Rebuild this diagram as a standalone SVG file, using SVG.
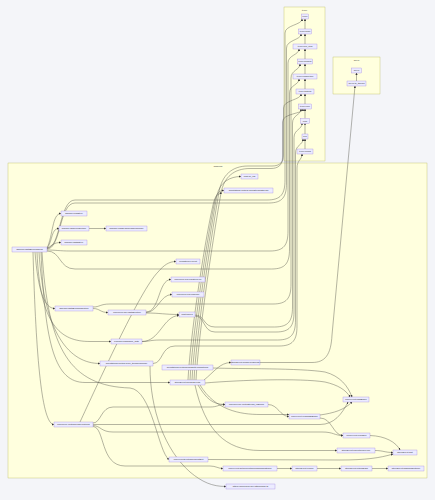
<svg xmlns="http://www.w3.org/2000/svg" width="435" height="500" viewBox="0 0 435 500">
<style>
.bg{fill:#f4f5f9}
.cl{fill:#ffffde;stroke:#aaaa33;stroke-width:0.3}
.node rect{fill:#ececff;stroke:#9370db;stroke-width:0.3}
text{font-family:"Liberation Sans",Arial,sans-serif;font-size:2.3px;fill:#333;text-anchor:middle}
#edges path{fill:none;stroke:#5a5a50;stroke-width:0.45;marker-end:url(#ah)}
</style>
<defs>
<marker id="ah" viewBox="0 0 10 10" refX="9" refY="5" markerUnits="userSpaceOnUse" markerWidth="2.2" markerHeight="2.2" orient="auto"><path d="M0,0L10,5L0,10z" fill="#333"/></marker>
</defs>
<rect class="bg" x="0" y="0" width="435" height="500"/>
<g id="clusters">
<rect class="cl" x="284" y="7" width="41" height="154"/>
<text x="304.5" y="10.5">typer</text>
<rect class="cl" x="333" y="57" width="47" height="37"/>
<text x="356.5" y="60.5">anyio</text>
<rect class="cl" x="8" y="163" width="419" height="315"/>
<text x="218" y="166.8">backend</text>
</g>
<g id="edges">
<path d="M305 29L305 19"/>
<path d="M305 44L305 34"/>
<path d="M305 59L305 49"/>
<path d="M305 74L305 64"/>
<path d="M305 89L305 79"/>
<path d="M305 104L305 94"/>
<path d="M305 118.5L305 109"/>
<path d="M305 134L305 123.5"/>
<path d="M305 149L305 139"/>
<path d="M356.5 81L356.5 73"/>
<path d="M47 248C61 248 59 200 75 200L267 200C281 200 285 194 285 180L285 33C285 25 302 25 302 19"/>
<path d="M47 249C61 249 59 203 75 203L268.5 203C282.5 203 286.5 197 286.5 183L286.5 48C286.5 40 301 40 301 34"/>
<path d="M47 250C55 250 60 251 70 251L270 251C284 251 288 245 288 231L288 63C288 55 299 55 299 49"/>
<path d="M47 251C61 251 59 269 75 269L271.5 269C285.5 269 289.5 263 289.5 249L289.5 93C289.5 85 299 85 299 79"/>
<path d="M93 307C100 307 100 304 110 304L273 304C287 304 291 298 291 284L291 78C291 70 300 70 300 64"/>
<path d="M195 315C205 315 203 327 215 327L274.5 327C288.5 327 292.5 321 292.5 307L292.5 123C292.5 115 301 115 301 109"/>
<path d="M195 316C205 316 203 332 215 332L276 332C290 332 294 326 294 312L294 137.5C294 129.5 302 129.5 302 123.5"/>
<path d="M142 341.5C150 341.5 150 340 160 340L277.5 340C291.5 340 295.5 334 295.5 320L295.5 153C295.5 145 303 145 303 139"/>
<path d="M153 363.5C163 363.5 161 346 175 346L279 346C293 346 297 340 297 326L297 168C297 160 302 160 302 154"/>
<path d="M190 380C192 340 205 250 215 200C217 193 219 190.5 224 190.5"/>
<path d="M192 380C194 340 207 250 217 195C220 182 230 176.5 241 176.5"/>
<path d="M194 380C196 340 209 250 219 192C222 175 232 166 248 166L272 166C280 166 283.5 162 283.5 155L283.5 108C283.5 100 301 100 301 94"/>
<path d="M196 380C198 340 211 250 221 193C224 177 234 168.5 250 168.5L271 168.5C278 168.5 282.5 165 282.5 158L282.5 122C282.5 113 303 114 303 109"/>
<path d="M188 380C190 340 203 250 213 205C215 196 217 194 222 193"/>
<path d="M204 380C214 372 220 362.5 231 362.5"/>
<path d="M198 385C206 398 212 404.5 225 404.5"/>
<path d="M205 383C240 380 300 378 325 382C338 385 346 390 350 397"/>
<path d="M200 385C215 410 240 414.5 260 414.5L289 414.5"/>
<path d="M195 385C205 430 225 450.5 260 450.5L337 450.5"/>
<path d="M213 368C240 369 300 368 325 372C340 376 348 386 352 397"/>
<path d="M260 362.5L312 362.5C325 362.5 331 355 332 335L355 86"/>
<path d="M93 423C101 423 101 407 113 407L210 407C218 407 218 404.5 225 404.5"/>
<path d="M93 424.5L320 424.5C334 424.5 342 414 348 402"/>
<path d="M93 425.5C101 426 101 432 113 432L322 432C334 432 334 435.5 343 435.5"/>
<path d="M93 426.5C105 427 100 466 125 466L210 466C216 466 218 468.5 223 468.5"/>
<path d="M80 422C95 390 140 290 158 272C164 265 169 261.5 176 261.5"/>
<path d="M42 252C48 350 70 386 130 388C152 390 158 452 169 459.5"/>
<path d="M150 366C150 410 165 450 190 472C202 482 212 486.5 226 486.5"/>
<path d="M268 404.5C278 404.5 280 416.5 289 416.5"/>
<path d="M320 415C334 413 344 410 352 402"/>
<path d="M320 418C332 418 333 435.5 343 435.5"/>
<path d="M370 435.5C385 436 396 442 400 450"/>
<path d="M375 450.5C383 450.5 385 452.5 393 452.5"/>
<path d="M208 459.5L340 460C365 460 380 458 393 454"/>
<path d="M277 468.5L292 468.5"/>
<path d="M317 468.5L341 468.5"/>
<path d="M372 468.5L388 468.5"/>
<path d="M47 248C53 236 52 213.5 61 213.5"/>
<path d="M47 248.5C53 240 51 228.5 59 228.5"/>
<path d="M47 249C52 245 54 242.5 61 242.5"/>
<path d="M89 228.5L106 228.5"/>
<path d="M35 252C38 290 44 308.5 55 308.5"/>
<path d="M37 252C40 325 60 341.5 90 341.5L111 341.5"/>
<path d="M39 252C44 335 70 363.5 100 363.5"/>
<path d="M33 252C36 360 42 424.5 54 424.5"/>
<path d="M41 252C45 345 55 382.5 85 382.5L170 382.5"/>
<path d="M93 308.5C100 308.5 100 312.5 108 312.5"/>
<path d="M146 312C160 312 158 279.5 171 279.5"/>
<path d="M146 312.5C158 312.5 160 294.5 172 294.5"/>
<path d="M146 313C160 313 165 314.5 179 314.5"/>
<path d="M142 341.5C160 341.5 163 316 179 315.5"/>
</g>
<g id="T1" class="node"><rect x="301.5" y="14" width="7" height="5"/><text x="305" y="17.3">typer</text></g>
<g id="T2" class="node"><rect x="298.5" y="29" width="13" height="5"/><text x="305" y="32.3">typer.main</text></g>
<g id="T3" class="node"><rect x="293" y="44" width="24" height="5"/><text x="305" y="47.3">typer.rich_utils</text></g>
<g id="T4" class="node"><rect x="297.5" y="59" width="15" height="5"/><text x="305" y="62.3">typer.models</text></g>
<g id="T5" class="node"><rect x="293" y="74" width="24" height="5"/><text x="305" y="77.3">typer.completion</text></g>
<g id="T6" class="node"><rect x="296" y="89" width="18" height="5"/><text x="305" y="92.3">typer.testing</text></g>
<g id="T7" class="node"><rect x="298.5" y="104" width="13" height="5"/><text x="305" y="107.3">typer.core</text></g>
<g id="T8" class="node"><rect x="300.5" y="118.5" width="9" height="5"/><text x="305" y="121.8">click</text></g>
<g id="T9" class="node"><rect x="302" y="134" width="6" height="5"/><text x="305" y="137.3">sys</text></g>
<g id="T10" class="node"><rect x="297" y="149" width="16" height="5"/><text x="305" y="152.3">typer.colors</text></g>
<g id="N1" class="node"><rect x="351.5" y="68" width="10" height="5"/><text x="356.5" y="71.3">anyio</text></g>
<g id="N2" class="node"><rect x="347" y="81" width="19" height="5"/><text x="356.5" y="84.3">anyio.to_thread</text></g>
<g id="A" class="node"><rect x="12" y="247" width="35" height="5"/><text x="29.5" y="250.3">sidebar.rightsExpressions</text></g>
<g id="B" class="node"><rect x="61" y="211" width="26" height="5"/><text x="74" y="214.3">sidebar.readStyle</text></g>
<g id="C" class="node"><rect x="59" y="226" width="30" height="5"/><text x="74" y="229.3">sidebar.ChannelSection</text></g>
<g id="D" class="node"><rect x="106" y="226" width="41" height="5"/><text x="126.5" y="229.3">sidebar.loadSysThreadResponse</text></g>
<g id="E" class="node"><rect x="61" y="240" width="26" height="5"/><text x="74" y="243.3">sidebar.rightsStyle</text></g>
<g id="F" class="node"><rect x="55" y="306" width="38" height="5"/><text x="74" y="309.3">sidebar.rightsExpandSection</text></g>
<g id="G" class="node"><rect x="108" y="310" width="38" height="5"/><text x="127" y="313.3">pokepeek.hal.rightsSection</text></g>
<g id="H" class="node"><rect x="111" y="339" width="31" height="5"/><text x="126.5" y="342.3">pokeball.password_auth</text></g>
<g id="I" class="node"><rect x="100" y="361" width="53" height="5"/><text x="126.5" y="364.3">annotations.routesHTTP_thinkResponse</text></g>
<g id="J" class="node"><rect x="54" y="422" width="39" height="5"/><text x="73.5" y="425.3">pokepeek.routesReadFunctions</text></g>
<g id="K" class="node"><rect x="241" y="174" width="17" height="5"/><text x="249.5" y="177.3">post.all_cfg</text></g>
<g id="L" class="node"><rect x="224" y="188" width="49" height="5"/><text x="248.5" y="191.3">annotations.routesHTTPStreamStream</text></g>
<g id="M" class="node"><rect x="176" y="259" width="24" height="5"/><text x="188" y="262.3">persistence.Point</text></g>
<g id="N" class="node"><rect x="171" y="277" width="34" height="5"/><text x="188" y="280.3">pokepeek.hal.registerType</text></g>
<g id="O" class="node"><rect x="172" y="292" width="32" height="5"/><text x="188" y="295.3">pokepeek.hal.loadInfo</text></g>
<g id="P" class="node"><rect x="179" y="312" width="16" height="5"/><text x="187" y="315.3">post.tuples</text></g>
<g id="Q" class="node"><rect x="231" y="360" width="29" height="5"/><text x="245.5" y="363.3">storeEvent.modifyResponse</text></g>
<g id="R" class="node"><rect x="162" y="365" width="51" height="5"/><text x="187.5" y="368.3">annotations.routesCodeEntityTransitions</text></g>
<g id="S" class="node"><rect x="170" y="380" width="35" height="5"/><text x="187.5" y="383.3">storeEvent.handleEvents</text></g>
<g id="T" class="node"><rect x="225" y="402" width="43" height="5"/><text x="246.5" y="405.3">pokeservice.routeStream_ipErrors</text></g>
<g id="U" class="node"><rect x="169" y="457" width="39" height="5"/><text x="188.5" y="460.3">pokeevents.initialRequestSet</text></g>
<g id="V" class="node"><rect x="223" y="466" width="54" height="5"/><text x="250" y="469.3">pokeevent.getCurrentRefreshUrlsmatches</text></g>
<g id="W" class="node"><rect x="226" y="484" width="49" height="5"/><text x="250.5" y="487.3">https://docs.sxml.dev/http/foobar.ts</text></g>
<g id="X" class="node"><rect x="343" y="397" width="26" height="5"/><text x="356" y="400.3">pokeevent.jobsBuffer</text></g>
<g id="Y" class="node"><rect x="289" y="414" width="31" height="5"/><text x="304.5" y="417.3">pokeevent.readTaskBuffer</text></g>
<g id="Z" class="node"><rect x="343" y="433" width="27" height="5"/><text x="356.5" y="436.3">pokeevent.readSelf</text></g>
<g id="AA" class="node"><rect x="337" y="448" width="38" height="5"/><text x="356" y="451.3">storeEvent.parentReference</text></g>
<g id="AB" class="node"><rect x="393" y="450" width="24" height="5"/><text x="405" y="453.3">storeEvent.halt</text></g>
<g id="AD" class="node"><rect x="292" y="466" width="25" height="5"/><text x="304.5" y="469.3">storeEvent.cursor</text></g>
<g id="AE" class="node"><rect x="341" y="466" width="31" height="5"/><text x="356.5" y="469.3">storeEvent.fetchJSON</text></g>
<g id="AF" class="node"><rect x="388" y="466" width="36" height="5"/><text x="406" y="469.3">storeEvent.highlandSetURL</text></g>
</svg>
